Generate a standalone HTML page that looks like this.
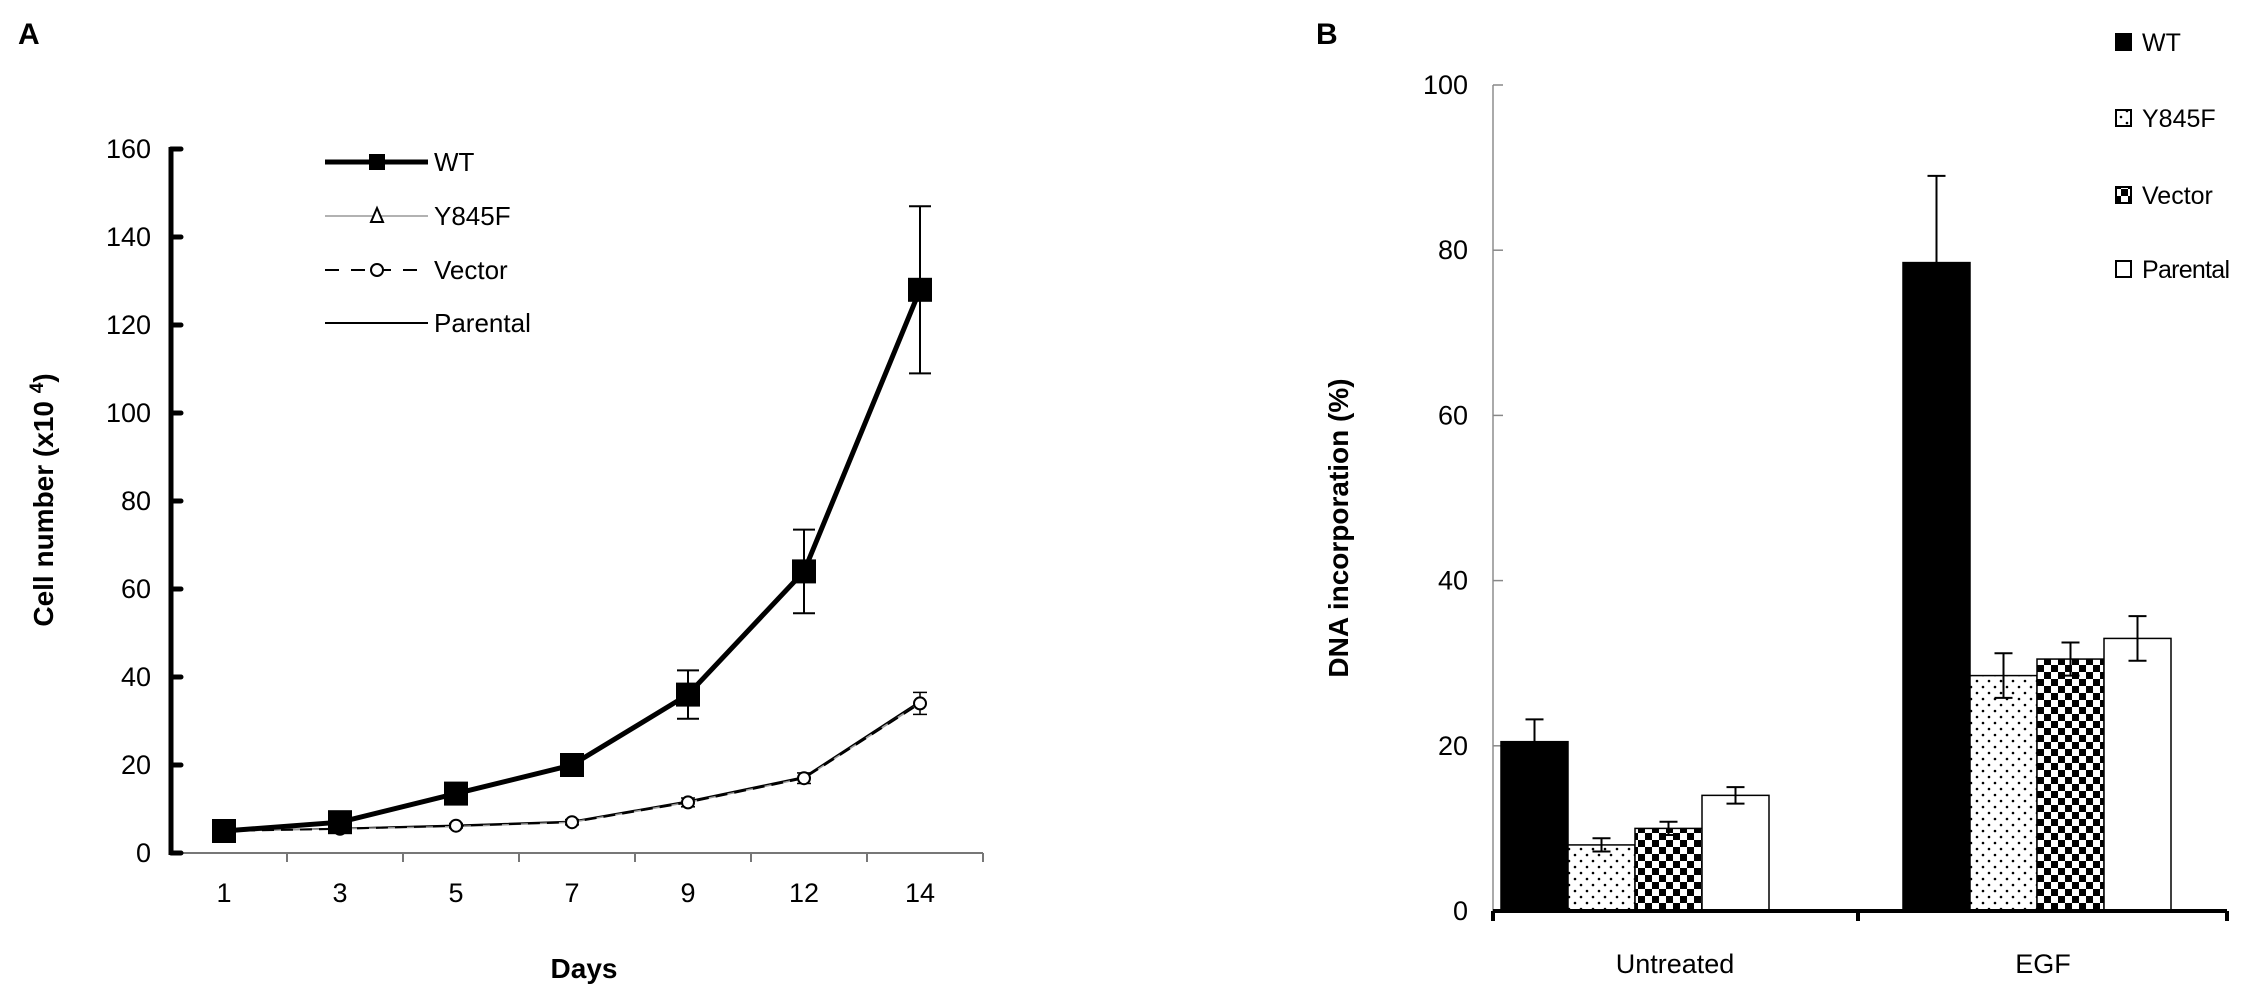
<!DOCTYPE html>
<html><head><meta charset="utf-8"><style>
body{margin:0;background:#fff;}
svg{display:block;font-family:"Liberation Sans",Arial,sans-serif;}
</style></head><body>
<svg id="fig" width="2268" height="1006" viewBox="0 0 2268 1006">
<defs>
<pattern id="dots" width="12" height="12" patternUnits="userSpaceOnUse"><rect width="12" height="12" fill="#fff"/><circle cx="3" cy="3" r="1.3" fill="#000"/><circle cx="9" cy="9" r="1.3" fill="#000"/></pattern>
<pattern id="check" width="14" height="14" patternUnits="userSpaceOnUse"><rect width="14" height="14" fill="#fff"/><rect width="7" height="7" fill="#000"/><rect x="7" y="7" width="7" height="7" fill="#000"/></pattern>
</defs>
<g id="panelA"></g>
<g id="panelB"></g>
</svg>
<script>
// Panel A data
const days = ["1","3","5","7","9","12","14"];
const wtVals = [5,7,13.5,20,36,64,128];
const wtErr = [0.8,1,1.5,2,5.5,9.5,19];
const y845fVals = [5,5.5,6,7,11.5,17,34];
const vectorVals = [5,5.5,6.2,7,11.5,17,34];
const vectorErr = [0.5,0.5,0.5,0.6,1,1.2,2.5];
const parentalVals = [5,5.6,6.3,7.2,11.8,17.3,34.5];
const yTicksA = [0,20,40,60,80,100,120,140,160];
// Panel B data
const groups = ["Untreated","EGF"];
const seriesB = ["WT","Y845F","Vector","Parental"];
const wtB = [20.5,78.5];
const wtBErr = [2.7,10.5];
const y845fB = [8,28.5];
const y845fBErr = [0.8,2.7];
const vectorB = [10,30.5];
const vectorBErr = [0.8,2];
const parentalB = [14,33];
const parentalBErr = [1,2.7];
const yTicksB = [0,20,40,60,80,100];

const NS="http://www.w3.org/2000/svg";
function mk(parent,tag,attrs,text){const e=document.createElementNS(NS,tag);for(const k in attrs)e.setAttribute(k,attrs[k]);if(text!==undefined)e.textContent=text;parent.appendChild(e);return e;}

// ---------- Panel A ----------
const A=document.getElementById('panelA');
const ax0=171, ax1=983, ay0=853, ay1=149;
const yA=v=>ay0-(v/160)*(ay0-ay1);
const band=(ax1-ax0)/days.length;
const xA=i=>ax0+band*(i+0.5)-5;
let t;
t=mk(A,'text',{x:18,y:44,'font-size':30,'font-weight':'bold'},'A');


t=mk(A,'line',{x1:ax0,y1:ay0,x2:ax1,y2:ay0,stroke:'#777','stroke-width':2});


for(let i=1;i<=days.length;i++){const x=ax0+band*i;mk(A,'line',{x1:x,y1:ay0,x2:x,y2:ay0+9,stroke:'#777','stroke-width':2});}
days.forEach((d,i)=>{t=mk(A,'text',{x:xA(i),y:ay0+49,'font-size':27,'text-anchor':'middle'},d);

});
t=mk(A,'line',{x1:ax0,y1:ay1-2,x2:ax0,y2:ay0+2,stroke:'#000','stroke-width':5});


yTicksA.forEach(v=>{mk(A,'line',{x1:ax0,y1:yA(v),x2:ax0+10,y2:yA(v),stroke:'#000','stroke-width':5,'stroke-linecap':'round'});
t=mk(A,'text',{x:ax0-20,y:yA(v)+9,'font-size':27,'text-anchor':'end'},String(v));

});
t=mk(A,'text',{x:584,y:978,'font-size':28,'font-weight':'bold','text-anchor':'middle'},'Days');


t=mk(A,'text',{transform:'translate(53,500) rotate(-90)','font-size':28,'font-weight':'bold','text-anchor':'middle'});


t.innerHTML='Cell number (x10 <tspan dy="-10" font-size="19">4</tspan><tspan dy="10">)</tspan>';
function path(vals){return vals.map((v,i)=>(i?'L':'M')+xA(i)+','+yA(v)).join(' ');}
t=mk(A,'path',{d:path(parentalVals),fill:'none',stroke:'#000','stroke-width':1.5});


t=mk(A,'path',{d:path(y845fVals),fill:'none',stroke:'#999','stroke-width':1.5});


t=mk(A,'path',{d:path(vectorVals),fill:'none',stroke:'#000','stroke-width':2,'stroke-dasharray':'12,7'});


vectorVals.forEach((v,i)=>{const x=xA(i);
mk(A,'line',{x1:x,y1:yA(v+vectorErr[i]),x2:x,y2:yA(v-vectorErr[i]),stroke:'#000','stroke-width':1.5});
mk(A,'line',{x1:x-7,y1:yA(v+vectorErr[i]),x2:x+7,y2:yA(v+vectorErr[i]),stroke:'#000','stroke-width':1.5});
mk(A,'line',{x1:x-7,y1:yA(v-vectorErr[i]),x2:x+7,y2:yA(v-vectorErr[i]),stroke:'#000','stroke-width':1.5});
t=mk(A,'circle',{cx:x,cy:yA(v),r:6,fill:'#fff',stroke:'#000','stroke-width':2});

});
t=mk(A,'path',{d:path(wtVals),fill:'none',stroke:'#000','stroke-width':5});


wtVals.forEach((v,i)=>{const x=xA(i);
mk(A,'line',{x1:x,y1:yA(v+wtErr[i]),x2:x,y2:yA(v-wtErr[i]),stroke:'#000','stroke-width':2});
mk(A,'line',{x1:x-11,y1:yA(v+wtErr[i]),x2:x+11,y2:yA(v+wtErr[i]),stroke:'#000','stroke-width':2});
mk(A,'line',{x1:x-11,y1:yA(v-wtErr[i]),x2:x+11,y2:yA(v-wtErr[i]),stroke:'#000','stroke-width':2});
t=mk(A,'rect',{x:x-12,y:yA(v)-12,width:24,height:24,fill:'#000'});

});
const LA=mk(A,'g',{});


mk(LA,'line',{x1:325,y1:162,x2:428,y2:162,stroke:'#000','stroke-width':5});
mk(LA,'rect',{x:369,y:154,width:16,height:16,fill:'#000'});
mk(LA,'line',{x1:325,y1:216,x2:428,y2:216,stroke:'#999','stroke-width':1.5});
mk(LA,'path',{d:'M377,208 L383,222 L371,222 Z',fill:'#fff',stroke:'#000','stroke-width':2});
mk(LA,'line',{x1:325,y1:270,x2:428,y2:270,stroke:'#000','stroke-width':2,'stroke-dasharray':'14,12'});
mk(LA,'circle',{cx:377,cy:270,r:6,fill:'#fff',stroke:'#000','stroke-width':2});
mk(LA,'line',{x1:325,y1:323,x2:428,y2:323,stroke:'#000','stroke-width':2});
[['WT',171],['Y845F',225],['Vector',279],['Parental',332]].forEach(([n,y])=>{t=mk(LA,'text',{x:434,y:y,'font-size':26},n);

});

// ---------- Panel B ----------
const B=document.getElementById('panelB');
const bx0=1493, bx1=2227, by0=911, by1=85;
const yB=v=>by0-(v/100)*(by0-by1);
const xGroup=i=>1635+i*402;
const barW=67;
t=mk(B,'text',{x:1316,y:44,'font-size':30,'font-weight':'bold'},'B');


t=mk(B,'line',{x1:bx0,y1:by1,x2:bx0,y2:by0,stroke:'#aaa','stroke-width':2});


yTicksB.forEach(v=>{mk(B,'line',{x1:bx0,y1:yB(v),x2:bx0+10,y2:yB(v),stroke:'#888','stroke-width':1.5});
t=mk(B,'text',{x:bx0-25,y:yB(v)+9,'font-size':27,'text-anchor':'end'},String(v));

});
t=mk(B,'text',{transform:'translate(1348,528) rotate(-90)','font-size':28,'font-weight':'bold','text-anchor':'middle'},'DNA incorporation (%)');


const vals=[wtB,y845fB,vectorB,parentalB], errs=[wtBErr,y845fBErr,vectorBErr,parentalBErr];
const fills=['#000','url(#dots)','url(#check)','#fff'];
groups.forEach((g,gi)=>{
 vals.forEach((arr,si)=>{const x=xGroup(gi)-2*barW+si*barW, v=arr[gi], e=errs[si][gi];
  t=mk(B,'rect',{x:x,y:yB(v),width:barW,height:by0-yB(v),fill:fills[si],stroke:'#000','stroke-width':1.5});
  
  
  const cx=x+barW/2;
  mk(B,'line',{x1:cx,y1:yB(v+e),x2:cx,y2:yB(v-e),stroke:'#000','stroke-width':2});
  mk(B,'line',{x1:cx-9,y1:yB(v+e),x2:cx+9,y2:yB(v+e),stroke:'#000','stroke-width':2});
  mk(B,'line',{x1:cx-9,y1:yB(v-e),x2:cx+9,y2:yB(v-e),stroke:'#000','stroke-width':2});
 });
 t=mk(B,'text',{x:xGroup(gi)+40-gi*34,y:973,'font-size':27,'text-anchor':'middle'},g);
 
 
});
t=mk(B,'line',{x1:bx0,y1:by0,x2:bx1,y2:by0,stroke:'#000','stroke-width':4});


[bx0,1858,bx1].forEach(x=>mk(B,'line',{x1:x,y1:by0,x2:x,y2:by0+10,stroke:'#000','stroke-width':4}));
const LB=mk(B,'g',{});


[['WT',42],['Y845F',118],['Vector',195],['Parental',269]].forEach(([n,y],i)=>{
 mk(LB,'rect',{x:2116,y:y-8,width:15,height:16,fill:i==2?'url(#check)':fills[i],stroke:'#000','stroke-width':2});
 t=mk(LB,'text',{x:2142,y:y+9,'font-size':25,textLength:i==3?88:null},n);
 if(i!=3)t.removeAttribute('textLength');
 
 
});
</script>
</body></html>
